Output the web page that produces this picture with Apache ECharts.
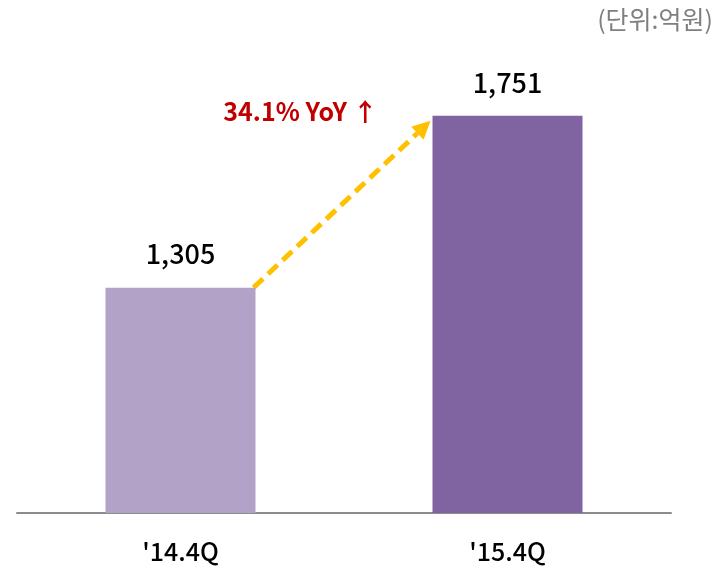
<!DOCTYPE html>
<html><head><meta charset="utf-8">
<script src="https://cdn.jsdelivr.net/npm/echarts@6/dist/echarts.min.js"></script>
<style>html,body{margin:0;padding:0;background:#fff}#c{width:722px;height:574px}</style>
</head><body><div id="c"></div>
<script>
const categories = ["'14.4Q", "'15.4Q"];
const values = [1305, 1751];
const barColors = ['#B3A2C7', '#8064A2'];
const unitText = '(단위:억원)';
const growthText = '34.1% YoY ↑';

const FONT = '"Noto Sans CJK KR", "Noto Sans", sans-serif';
const BAR_W = 150;
const chart = echarts.init(document.getElementById('c'), null, {renderer: 'canvas'});
const unitGraphic = {type: 'text', right: 9, top: 7, style: {text: unitText, fill: '#7F7F7F', font: '25px ' + FONT}};
const option = {
  animation: false,
  backgroundColor: '#fff',
  grid: {left: 17, right: 51, top: 97, bottom: 61},
  xAxis: {
    type: 'category', data: categories,
    axisLine: {lineStyle: {color: '#8C8C8C', width: 2}},
    axisTick: {show: false},
    axisLabel: {color: '#000', fontSize: 25, fontWeight: 500, fontFamily: FONT, margin: 26}
  },
  yAxis: {type: 'value', min: 720, max: 1800, show: false, splitLine: {show: false}},
  series: [{
    type: 'bar', barWidth: BAR_W,
    data: values.map((v, i) => ({value: v, itemStyle: {color: barColors[i]}})),
    label: {
      show: true, position: 'top', distance: 20, color: '#000', fontSize: 27, fontWeight: 500, fontFamily: FONT,
      formatter: p => p.value.toLocaleString('en-US')
    }
  }],
  graphic: [unitGraphic]
};
chart.setOption(option);

// arrow between bar tops, derived from data
const p0 = chart.convertToPixel({seriesIndex: 0}, [0, values[0]]);
const p1 = chart.convertToPixel({seriesIndex: 0}, [1, values[1]]);
const x0 = p0[0] + BAR_W / 2 - 2, y0 = p0[1];
const x1 = p1[0] - BAR_W / 2 - 2, y1 = p1[1] + 5;
const ang = Math.atan2(y1 - y0, x1 - x0);
const head = 18, hw = 9;
const bx = x1 - head * Math.cos(ang), by = y1 - head * Math.sin(ang);
const nx = -Math.sin(ang), ny = Math.cos(ang);
chart.setOption({
  graphic: [
    unitGraphic,
    {type: 'line', shape: {x1: x0, y1: y0, x2: bx, y2: by},
     style: {stroke: '#FFC000', lineWidth: 5, lineDash: [13, 7]}},
    {type: 'polygon', shape: {points: [[x1, y1], [bx + nx * hw, by + ny * hw], [bx - nx * hw, by - ny * hw]]},
     style: {fill: '#FFC000'}},
    {type: 'text', x: x0 + 47, y: y1 - 9,
     style: {text: growthText, fill: '#C00000', font: 'bold 25px ' + FONT, align: 'center', verticalAlign: 'middle'}}
  ]
}, {replaceMerge: ['graphic']});
</script></body></html>
